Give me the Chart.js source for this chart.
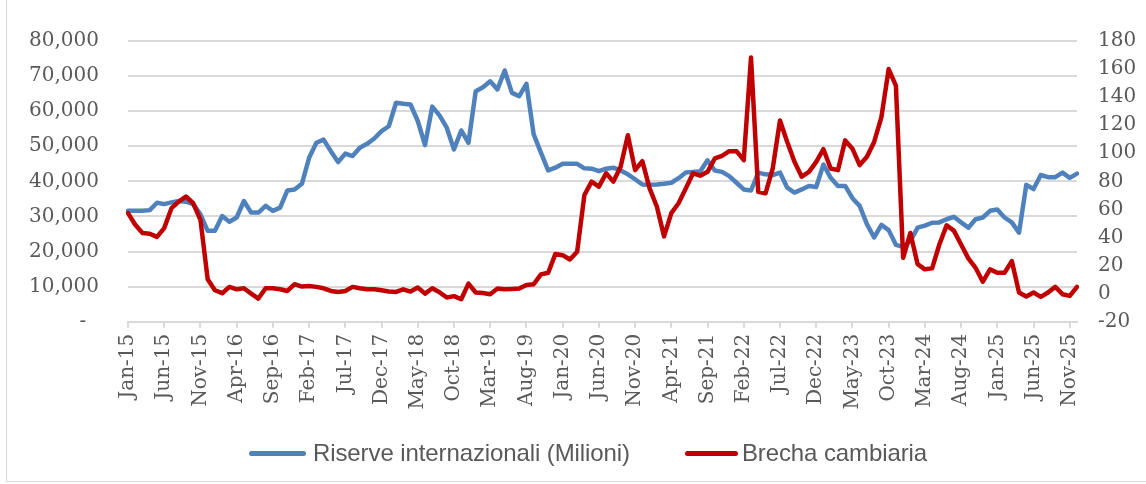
<!DOCTYPE html>
<html>
<head>
<meta charset="utf-8">
<script src="https://cdn.jsdelivr.net/npm/chart.js@4.4.1/dist/chart.umd.min.js"></script>
<style>
  body { margin: 0; background: #fff; }
  #wrap { position: relative; width: 1146px; height: 484px; overflow: hidden; }
  #frame { position: absolute; left: 6px; top: -2px; width: 1150px; height: 482px; border: 1px solid #d9d9d9; }
  #c { position: absolute; left: 0; top: 0; }
  #legend { position: absolute; left: 249px; top: 439px; display: flex; align-items: center;
            font-family: 'Liberation Sans', sans-serif; letter-spacing: -0.1px;
            font-size: 24px; color: #595959; white-space: nowrap; }
  .item { display: flex; align-items: center; margin-right: 55px; }
  .mark { height: 5px; border-radius: 3px; }
</style>
</head>
<body>
<div id="wrap">
  <div id="frame"></div>
  <canvas id="c" width="1146" height="484"></canvas>
  <div id="legend"></div>
</div>
<script>
// mesi Jan-15 ... Dec-25
const monthNames = ['Jan', 'Feb', 'Mar', 'Apr', 'May', 'Jun', 'Jul', 'Aug', 'Sep', 'Oct', 'Nov', 'Dec'];
const years = ['15', '16', '17', '18', '19', '20', '21', '22', '23', '24', '25'];
const labels = years.flatMap(y => monthNames.map(m => m + '-' + y));

// Riserve internazionali (milioni)
const riserve = [
    31600, 31600, 31600, 31800, 33900, 33500, 34000, 34400, 34200, 33500, 30600, 25900,
    25900, 30100, 28500, 29700, 34400, 31100, 31100, 33000, 31600, 32500, 37400, 37700,
    39300, 46700, 51000, 51900, 48600, 45500, 47900, 47200, 49600, 50700, 52200, 54300,
    55700, 62400, 62100, 61900, 57200, 50300, 61300, 58800, 55300, 49100, 54500, 51000,
    65700, 66800, 68500, 66200, 71600, 65200, 64300, 67800, 53400, 48200, 43100, 43900,
    45000, 45000, 45000, 43700, 43600, 42900, 43600, 43900, 43100, 42000, 40600, 39100,
    39000, 39100, 39300, 39600, 40900, 42500, 42700, 42900, 46000, 43100, 42700, 41500,
    39600, 37700, 37400, 42500, 42000, 41800, 42500, 38200, 36800, 37700, 38700, 38400,
    44800, 41000, 38700, 38700, 35200, 33000, 27800, 24000, 27600, 26100, 21900, 21300,
    23000, 26800, 27400, 28200, 28300, 29200, 29900, 28300, 26800, 29200, 29700, 31600,
    32000, 29700, 28300, 25400, 39000, 37800, 41800, 41200, 41200, 42500, 41000, 42200
];

// Brecha cambiaria (%)
const brecha = [
    57.4, 49.1, 43.2, 42.7, 40.4, 46.7, 60.9, 65.6, 69.2, 64.4, 52.6, 10.2,
    2.4, 0.3, 4.8, 3.1, 3.8, 0, -3.5, 3.8, 3.8, 3.1, 1.9, 6.7,
    5, 5.5, 4.8, 3.8, 1.9, 1.2, 1.9, 4.8, 3.8, 3.1, 3.1, 2.4,
    1.5, 1.2, 3.1, 1.5, 4.3, 0, 3.8, 1, -2.8, -1.8, -4, 7.1,
    0.8, 0.5, -0.4, 3.6, 3.1, 3.3, 3.6, 6.2, 6.7, 13.7, 14.9, 28.3,
    27.4, 24.3, 29.8, 70.3, 79.8, 76.2, 85.7, 79.8, 90.4, 112.8, 88, 94.4,
    75, 62.1, 40.8, 57.4, 64.4, 75, 85.7, 84, 86.8, 96.3, 98.2, 101.5,
    101.5, 95.1, 168.2, 72.5, 71.5, 89.2, 123.4, 108.1, 93.9, 83.3, 86.8, 93.9,
    102.9, 89.2, 88, 109.2, 103.3, 91.6, 97.5, 108.1, 125.8, 160, 148.2, 25.5,
    43.2, 21, 17.3, 18, 35, 48.6, 44.9, 35, 25.1, 18.4, 8.5, 17.3,
    14.9, 14.9, 23.2, 0.8, -2.1, 0.8, -2.3, 0.8, 4.8, -0.4, -1.6, 4.8
];

const tickFont = { family: 'DejaVu Serif', size: 20 };
const tickColor = '#595959';
const gridColor = '#d9d9d9';

const chartData = {
    labels: labels,
    datasets: [
        {
            label: 'Riserve internazionali (Milioni)',
            data: riserve,
            borderColor: '#4f81bd',
            backgroundColor: '#4f81bd',
            yAxisID: 'y',
            order: 1
        },
        {
            label: 'Brecha cambiaria',
            data: brecha,
            borderColor: '#c00000',
            backgroundColor: '#c00000',
            yAxisID: 'y1',
            order: 0
        }
    ]
};

const config = {
    type: 'line',
    data: chartData,
    options: {
        responsive: false,
        animation: false,
        layout: { padding: { top: 39, left: 0, right: 0, bottom: 0 } },
        elements: {
            line: { borderWidth: 4.5, tension: 0, borderJoinStyle: 'round', borderCapStyle: 'round' },
            point: { radius: 0 }
        },
        plugins: {
            legend: { display: false },
            tooltip: { enabled: false }
        },
        scales: {
            x: {
                offset: false,
                grid: { drawOnChartArea: false, drawTicks: true, tickLength: 6, color: gridColor, lineWidth: 2 },
                border: { display: true, color: gridColor, width: 2 },
                ticks: {
                    autoSkip: false,
                    maxRotation: 90,
                    minRotation: 90,
                    padding: 6,
                    color: tickColor,
                    font: tickFont,
                    callback: function(val, idx) {
                        return idx % 5 === 0 ? labels[idx] : null;
                    }
                },
                afterFit: function(scale) { scale.height = 484 - 321.7; }
            },
            y: {
                position: 'left',
                min: 0,
                max: 80000,
                grid: { color: gridColor, lineWidth: 2, drawTicks: false },
                border: { display: false },
                ticks: {
                    stepSize: 10000,
                    padding: 29,
                    color: tickColor,
                    font: tickFont,
                    callback: function(v) {
                        return v === 0 ? '-  ' : v.toLocaleString('en-US');
                    }
                },
                afterFit: function(scale) { scale.width = 128; }
            },
            y1: {
                position: 'right',
                min: -20,
                max: 180,
                grid: { drawOnChartArea: false, drawTicks: false },
                border: { display: false },
                ticks: {
                    stepSize: 20,
                    padding: 21,
                    color: tickColor,
                    font: tickFont
                },
                afterFit: function(scale) { scale.width = 1146 - 1077; }
            }
        }
    }
};

const chart = new Chart(document.getElementById('c').getContext('2d'), config);

// legenda in HTML, dai dataset
const legend = document.getElementById('legend');
chart.data.datasets.forEach(function(ds, i) {
    const item = document.createElement('div');
    item.className = 'item';
    const mark = document.createElement('span');
    mark.className = 'mark';
    mark.style.width = (i === 0 ? 57 : 53) + 'px';
    mark.style.marginRight = (i === 0 ? 7 : 4) + 'px';
    mark.style.background = ds.borderColor;
    const txt = document.createElement('span');
    txt.textContent = ds.label;
    item.appendChild(mark);
    item.appendChild(txt);
    legend.appendChild(item);
});
</script>
</body>
</html>
